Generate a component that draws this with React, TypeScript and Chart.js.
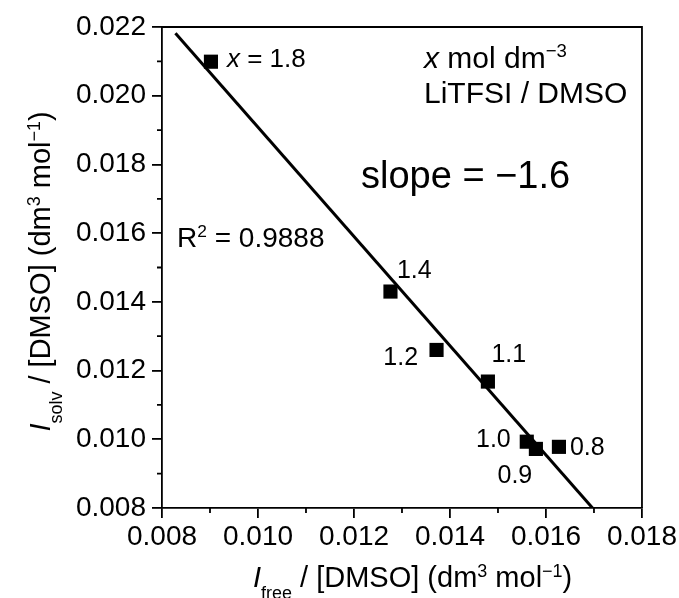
import React, { useEffect, useRef } from 'react';
import { Chart, registerables } from 'chart.js';

Chart.register(...registerables);

// ---- data ----
const concLabels = ['1.8', '1.4', '1.2', '1.1', '1.0', '0.9', '0.8'];
const freeValues = [0.00902, 0.01276, 0.01372, 0.01479, 0.0156, 0.01579, 0.01627];
const solvValues = [0.02099, 0.0143, 0.0126, 0.01168, 0.00993, 0.00972, 0.00978];
const fitX = [0.00828, 0.01697];
const fitY = [0.02182, 0.008];
const xTicks = [0.008, 0.01, 0.012, 0.014, 0.016, 0.018];
const yTicks = [0.008, 0.01, 0.012, 0.014, 0.016, 0.018, 0.02, 0.022];

const FONT = '"Liberation Sans", Arial, Helvetica, sans-serif';

type Seg = { t: string; it?: boolean; sub?: boolean; sup?: boolean };

function drawRich(
  ctx: CanvasRenderingContext2D,
  segs: Seg[],
  x: number,
  y: number,
  size: number,
  align: 'left' | 'center' | 'right'
) {
  const fontFor = (s: Seg) => {
    const sz = s.sub || s.sup ? size * 0.62 : size;
    return `${s.it ? 'italic ' : ''}${sz}px ${FONT}`;
  };
  let total = 0;
  const widths = segs.map((s) => {
    ctx.font = fontFor(s);
    const w = ctx.measureText(s.t).width;
    total += w;
    return w;
  });
  let cx = align === 'left' ? x : align === 'center' ? x - total / 2 : x - total;
  ctx.textAlign = 'left';
  ctx.textBaseline = 'alphabetic';
  segs.forEach((s, i) => {
    ctx.font = fontFor(s);
    const dy = s.sub ? size * 0.42 : s.sup ? -size * 0.36 : 0;
    ctx.fillText(s.t, cx, y + dy);
    cx += widths[i];
  });
}

const xTitle: Seg[] = [
  { t: 'I', it: true },
  { t: 'free', sub: true },
  { t: ' / [DMSO] (dm' },
  { t: '3', sup: true },
  { t: ' mol' },
  { t: '\u22121', sup: true },
  { t: ')' },
];
const yTitle: Seg[] = [
  { t: 'I', it: true },
  { t: 'solv', sub: true },
  { t: ' / [DMSO] (dm' },
  { t: '3', sup: true },
  { t: ' mol' },
  { t: '\u22121', sup: true },
  { t: ')' },
];

// label placement relative to each point (pixels)
const labelPlace: { dx: number; dy: number; align: 'left' | 'center' | 'right' }[] = [
  { dx: 16, dy: 5.5, align: 'left' },
  { dx: 6.5, dy: -13.5, align: 'left' },
  { dx: -18.5, dy: 15, align: 'right' },
  { dx: 3.5, dy: -20, align: 'left' },
  { dx: -16, dy: 5, align: 'right' },
  { dx: -21, dy: 34, align: 'center' },
  { dx: 11, dy: 8.5, align: 'left' },
];

const annotPlugin = {
  id: 'annot',
  afterDraw(chart: any) {
    const ctx: CanvasRenderingContext2D = chart.ctx;
    const { left, right, top, bottom } = chart.chartArea;
    const xs = chart.scales.x;
    const ys = chart.scales.y;
    ctx.save();
    ctx.fillStyle = '#000';
    ctx.strokeStyle = '#000';

    // frame top & right
    ctx.lineWidth = 1.8;
    ctx.beginPath();
    ctx.moveTo(left, top);
    ctx.lineTo(right, top);
    ctx.lineTo(right, bottom);
    ctx.stroke();

    // minor ticks
    ctx.lineWidth = 1.8;
    ctx.beginPath();
    for (let i = 0; i < xTicks.length - 1; i++) {
      const px = xs.getPixelForValue((xTicks[i] + xTicks[i + 1]) / 2);
      ctx.moveTo(px, bottom);
      ctx.lineTo(px, bottom + 5);
    }
    for (let i = 0; i < yTicks.length - 1; i++) {
      const py = ys.getPixelForValue((yTicks[i] + yTicks[i + 1]) / 2);
      ctx.moveTo(left, py);
      ctx.lineTo(left - 5, py);
    }
    ctx.stroke();

    // point labels
    concLabels.forEach((lab, i) => {
      const px = xs.getPixelForValue(freeValues[i]);
      const py = ys.getPixelForValue(solvValues[i]);
      const p = labelPlace[i];
      const segs: Seg[] = i === 0 ? [{ t: 'x', it: true }, { t: ' = ' + lab }] : [{ t: lab }];
      drawRich(ctx, segs, px + p.dx, py + p.dy, i === 0 ? 26 : 25, p.align);
    });

    // legend-like annotation
    drawRich(ctx, [{ t: 'x', it: true }, { t: ' mol dm' }, { t: '\u22123', sup: true }],
      xs.getPixelForValue(0.013458), ys.getPixelForValue(0.020821), 30, 'left');
    drawRich(ctx, [{ t: 'LiTFSI / DMSO' }],
      xs.getPixelForValue(0.013458), ys.getPixelForValue(0.019788), 30, 'left');
    drawRich(ctx, [{ t: 'slope = \u22121.6' }],
      xs.getPixelForValue(0.012146), ys.getPixelForValue(0.017314), 38, 'left');
    drawRich(ctx, [{ t: 'R' }, { t: '2', sup: true }, { t: ' = 0.9888' }],
      xs.getPixelForValue(0.008313), ys.getPixelForValue(0.015597), 28, 'left');

    // axis titles
    drawRich(ctx, xTitle, 253, 587, 29, 'left');
    ctx.save();
    ctx.translate(50, (top + bottom) / 2 + 4);
    ctx.rotate(-Math.PI / 2);
    drawRich(ctx, yTitle, 0, 0, 29, 'center');
    ctx.restore();

    ctx.restore();
  },
};

export default function App() {
  const ref = useRef<HTMLCanvasElement | null>(null);
  useEffect(() => {
    if (!ref.current) return;
    const points = freeValues.map((x, i) => ({ x, y: solvValues[i] }));
    const fit = fitX.map((x, i) => ({ x, y: fitY[i] }));
    const tickFont = { family: FONT, size: 28 };
    const chart = new Chart(ref.current, {
      type: 'scatter',
      data: {
        datasets: [
          {
            type: 'scatter',
            data: points,
            pointStyle: 'rect',
            pointRadius: 10,
            pointHoverRadius: 10,
            backgroundColor: '#000',
            borderColor: '#000',
            borderWidth: 0,
            order: 0,
          } as any,
          {
            type: 'line',
            data: fit,
            borderColor: '#000',
            borderWidth: 3,
            pointRadius: 0,
            fill: false,
            tension: 0,
            order: 1,
          } as any,
        ],
      },
      options: {
        animation: false,
        responsive: true,
        maintainAspectRatio: false,
        events: [],
        layout: { padding: { left: 0, top: 27, right: 37, bottom: 0 } },
        plugins: { legend: { display: false }, tooltip: { enabled: false } },
        scales: {
          x: {
            type: 'linear',
            min: 0.008,
            max: 0.018,
            afterBuildTicks: (s: any) => {
              s.ticks = xTicks.map((v) => ({ value: v }));
            },
            afterFit: (s: any) => {
              s.height = 90;
            },
            ticks: {
              color: '#000',
              font: tickFont,
              padding: 2,
              maxRotation: 0,
              autoSkip: false,
              callback: (v: any) => Number(v).toFixed(3),
            },
            grid: { drawOnChartArea: false, drawTicks: true, tickLength: 10, color: '#000', lineWidth: 1.8 },
            border: { display: true, color: '#000', width: 1.8 },
          },
          y: {
            type: 'linear',
            min: 0.008,
            max: 0.022,
            afterBuildTicks: (s: any) => {
              s.ticks = yTicks.map((v) => ({ value: v }));
            },
            afterFit: (s: any) => {
              s.width = 162;
            },
            ticks: {
              color: '#000',
              font: tickFont,
              padding: 6,
              autoSkip: false,
              callback: (v: any) => Number(v).toFixed(3),
            },
            grid: { drawOnChartArea: false, drawTicks: true, tickLength: 10, color: '#000', lineWidth: 1.8 },
            border: { display: true, color: '#000', width: 1.8 },
          },
        },
      } as any,
      plugins: [annotPlugin],
    });
    return () => chart.destroy();
  }, []);
  return (
    <div style={{ position: 'fixed', left: 0, top: 0, width: 679, height: 598, background: '#fff' }}>
      <canvas ref={ref} />
    </div>
  );
}
